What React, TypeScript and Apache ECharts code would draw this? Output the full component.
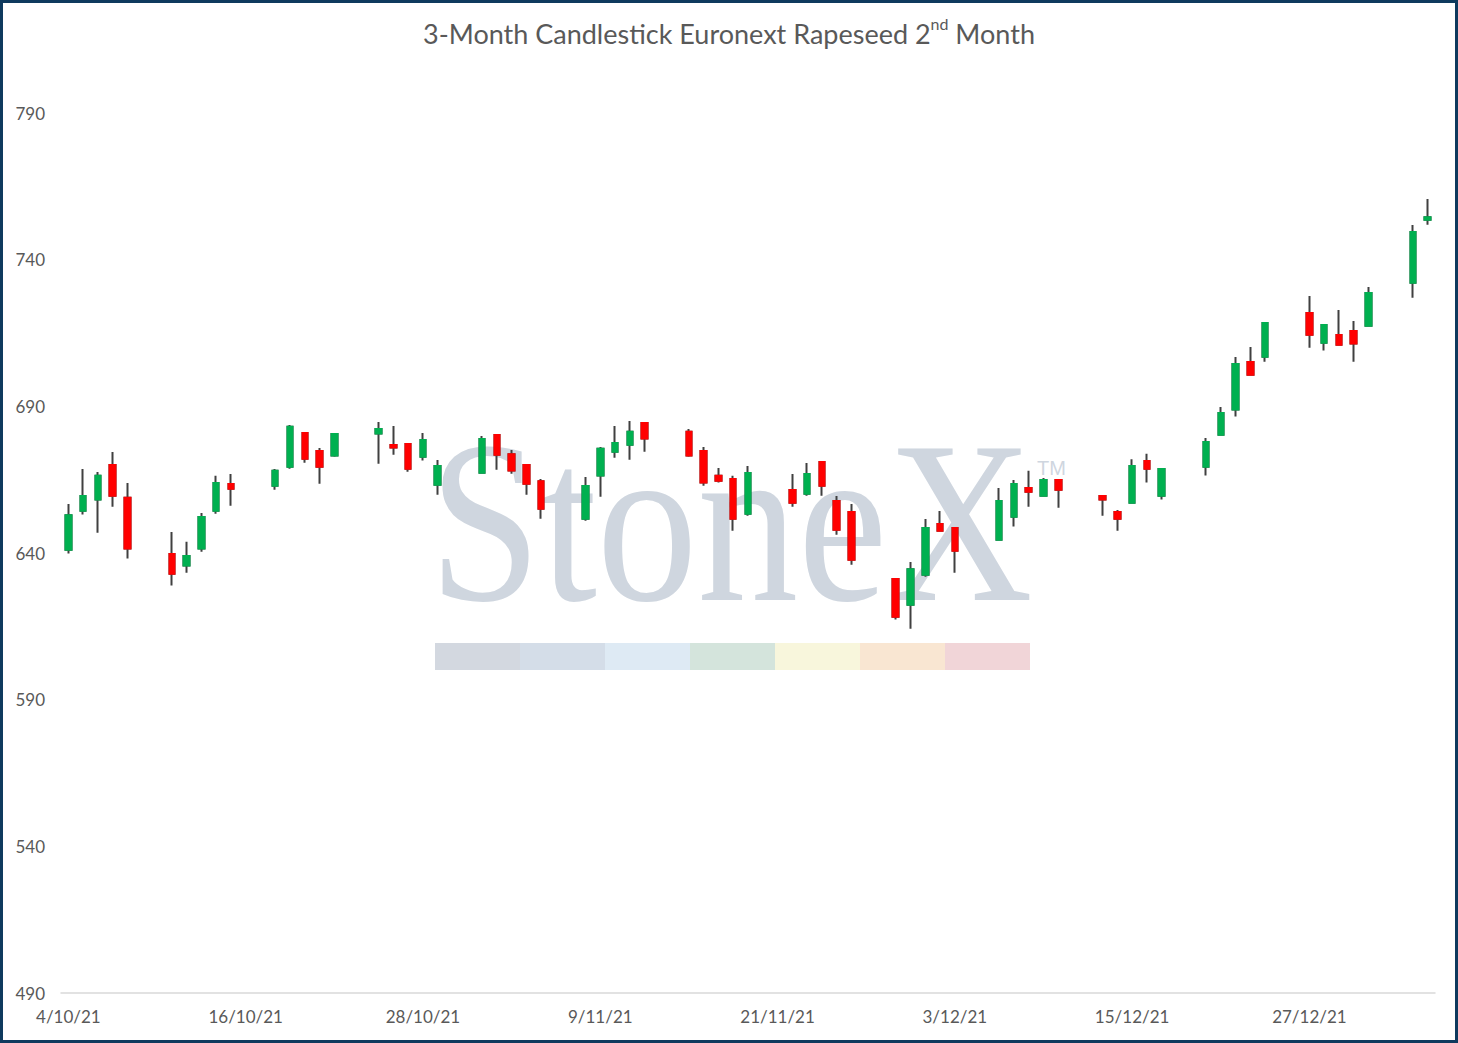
import React, { useEffect, useRef } from "react";
import * as echarts from "echarts";

// Trading days shown on the chart (d/m/yy)
const tradeDates = [
  "4/10/21", "5/10/21", "6/10/21", "7/10/21", "8/10/21",
  "11/10/21", "12/10/21", "13/10/21", "14/10/21", "15/10/21",
  "18/10/21", "19/10/21", "20/10/21", "21/10/21", "22/10/21",
  "25/10/21", "26/10/21", "27/10/21", "28/10/21", "29/10/21",
  "1/11/21", "2/11/21", "3/11/21", "4/11/21", "5/11/21",
  "8/11/21", "9/11/21", "10/11/21", "11/11/21", "12/11/21",
  "15/11/21", "16/11/21", "17/11/21", "18/11/21", "19/11/21",
  "22/11/21", "23/11/21", "24/11/21", "25/11/21", "26/11/21",
  "29/11/21", "30/11/21", "1/12/21", "2/12/21", "3/12/21",
  "6/12/21", "7/12/21", "8/12/21", "9/12/21", "10/12/21",
  "13/12/21", "14/12/21", "15/12/21", "16/12/21", "17/12/21",
  "20/12/21", "21/12/21", "22/12/21", "23/12/21", "24/12/21",
  "27/12/21", "28/12/21", "29/12/21", "30/12/21", "31/12/21",
  "3/1/22", "4/1/22",
];

const opens = [
  641.1, 654.4, 658.2, 670.0, 658.8,
  639.7, 635.7, 641.5, 654.4, 663.5,
  662.9, 669.4, 680.9, 674.8, 673.2,
  680.7, 676.8, 677.2, 672.8, 663.3,
  667.4, 680.2, 673.7, 670.0, 664.5,
  651.7, 666.4, 674.5, 676.9, 684.3,
  681.3, 674.8, 666.3, 665.2, 653.4,
  661.5, 660.2, 671.0, 657.7, 654.0,
  631.1, 622.4, 632.6, 649.9, 648.5,
  644.5, 652.4, 662.2, 659.5, 664.9,
  659.4, 654.0, 657.1, 671.4, 659.5,
  669.4, 680.3, 688.9, 705.1, 706.9,
  721.8, 711.7, 714.3, 715.7, 717.5,
  732.1, 753.6,
];

const closes = [
  652.9, 659.4, 666.3, 659.5, 641.5,
  632.9, 639.0, 652.3, 663.9, 661.9,
  668.0, 683.0, 672.1, 669.4, 680.6,
  682.3, 676.0, 668.7, 678.5, 669.7,
  678.9, 673.5, 668.1, 663.6, 655.1,
  662.8, 675.5, 677.5, 681.3, 679.0,
  673.2, 664.0, 664.6, 651.7, 667.3,
  657.1, 666.9, 662.9, 647.9, 637.7,
  618.3, 634.5, 648.5, 647.6, 640.8,
  657.7, 663.5, 660.9, 664.9, 661.6,
  658.2, 651.7, 669.7, 668.7, 668.6,
  677.8, 687.7, 704.4, 700.8, 718.4,
  714.4, 717.7, 711.0, 711.4, 728.6,
  749.4, 754.5,
];

const lows = [
  639.8, 653.1, 646.9, 655.8, 638.1,
  628.9, 633.3, 640.4, 653.4, 656.1,
  661.6, 668.7, 670.8, 663.6, 672.8,
  670.4, 673.5, 667.7, 671.5, 659.9,
  667.4, 668.4, 667.0, 659.9, 651.7,
  651.0, 659.2, 672.5, 671.8, 674.5,
  672.8, 662.9, 664.0, 647.6, 652.7,
  655.8, 659.5, 659.5, 646.2, 636.0,
  617.3, 614.2, 631.9, 647.3, 633.3,
  644.5, 649.0, 655.8, 659.5, 655.4,
  652.7, 647.6, 657.1, 664.0, 658.2,
  666.4, 680.0, 686.5, 700.8, 705.2,
  710.0, 709.0, 711.0, 705.2, 717.5,
  727.0, 751.9,
];

const highs = [
  656.7, 668.6, 667.6, 674.4, 663.9,
  647.2, 643.8, 653.6, 666.3, 666.9,
  668.6, 683.6, 680.9, 675.8, 680.9,
  684.7, 683.3, 677.2, 680.9, 671.7,
  679.9, 680.2, 675.1, 670.0, 665.2,
  665.9, 676.1, 683.3, 685.0, 684.7,
  682.3, 676.1, 669.0, 666.3, 669.7,
  666.9, 670.7, 671.0, 659.4, 656.7,
  631.1, 636.9, 651.6, 654.3, 648.5,
  662.2, 664.9, 668.0, 665.6, 664.9,
  659.8, 654.7, 672.0, 673.8, 668.6,
  679.2, 689.8, 706.8, 710.2, 718.4,
  727.6, 718.1, 722.8, 719.1, 730.7,
  751.8, 760.7,
];

const yTicks = { min: 490, max: 790, step: 50 };
const titleMain = "3-Month Candlestick Euronext Rapeseed 2";
const titleSup = "nd";
const titleEnd = " Month";
const watermarkColors = ["#d3d8e0", "#d4dde8", "#deeaf4", "#d4e4dc", "#f8f6dc", "#f9e6d2", "#f1d5d8"];

const UP = "#00b050";
const DOWN = "#ff0000";
const WICK = "#404040";
const TXT = "#595959";
const FONT = "Lato, 'Noto Sans', sans-serif";

function parseDMY(s: string) {
  const [d, m, y] = s.split("/").map(Number);
  return Date.UTC(2000 + y, m - 1, d);
}
function fmt(t: number) {
  const dt = new Date(t);
  return `${dt.getUTCDate()}/${dt.getUTCMonth() + 1}/${String(dt.getUTCFullYear()).slice(2)}`;
}

export default function App() {
  const ref = useRef<HTMLDivElement>(null);
  useEffect(() => {
    if (!ref.current) return;
    const chart = echarts.init(ref.current, undefined, { renderer: "svg" });

    // calendar day axis (weekends are empty slots)
    const start = parseDMY(tradeDates[0]);
    const end = parseDMY(tradeDates[tradeDates.length - 1]);
    const categories: string[] = [];
    for (let t = start; t <= end; t += 86400000) categories.push(fmt(t));

    const full = categories.map((c) => {
      const i = tradeDates.indexOf(c);
      return i < 0 ? "-" : [opens[i], closes[i], lows[i], highs[i]];
    });
    const bodies = categories.map((c) => {
      const i = tradeDates.indexOf(c);
      return i < 0
        ? "-"
        : [opens[i], closes[i], Math.min(opens[i], closes[i]), Math.max(opens[i], closes[i])];
    });

    const segW = 85;
    const barX = 435;
    const graphics: any[] = [
      {
        type: "text",
        x: 429,
        y: 522,
        scaleX: 0.875,
        z: -10,
        silent: true,
        style: {
          text: "StoneX",
          fontFamily: "'Liberation Serif', 'DejaVu Serif', serif",
          fontSize: 230,
          fill: "#cfd6df",
          align: "left",
          verticalAlign: "middle",
        },
      },
      {
        type: "text",
        x: 1037,
        y: 468,
        z: -10,
        silent: true,
        style: {
          text: "TM",
          fontFamily: "'Liberation Sans', sans-serif",
          fontSize: 20,
          fill: "#cfd6df",
          align: "left",
          verticalAlign: "middle",
        },
      },
      ...watermarkColors.map((col, i) => ({
        type: "rect",
        z: -10,
        silent: true,
        shape: { x: barX + i * segW, y: 643, width: segW, height: 27 },
        style: { fill: col },
      })),
      {
        type: "rect",
        z: 100,
        silent: true,
        shape: { x: 1.5, y: 1.5, width: 1455, height: 1040 },
        style: { fill: "none", stroke: "#0e3a5e", lineWidth: 3 },
      },
    ];

    chart.setOption({
      animation: false,
      backgroundColor: "#ffffff",
      title: {
        left: "center",
        top: 10,
        text: `{a|${titleMain}}{s|${titleSup}}{a|${titleEnd}}`,
        textStyle: {
          fontWeight: "normal",
          rich: {
            a: { fontSize: 27, fontWeight: "normal", color: TXT, fontFamily: FONT, lineHeight: 32, verticalAlign: "bottom" },
            s: { fontSize: 16, fontWeight: "normal", color: TXT, fontFamily: FONT, lineHeight: 32, verticalAlign: "top" },
          },
        },
      },
      grid: { left: 61, right: 23, top: 113, bottom: 50, containLabel: false },
      xAxis: {
        type: "category",
        data: categories,
        boundaryGap: true,
        axisLine: { show: true, lineStyle: { color: "#d9d9d9", width: 1.5 } },
        axisTick: { show: false },
        splitLine: { show: false },
        axisLabel: {
          interval: 11,
          color: TXT,
          fontSize: 17,
          fontFamily: FONT,
          margin: 15,
        },
      },
      yAxis: {
        type: "value",
        min: yTicks.min,
        max: yTicks.max,
        interval: yTicks.step,
        axisLine: { show: false },
        axisTick: { show: false },
        splitLine: { show: false },
        axisLabel: { color: TXT, fontSize: 17, fontFamily: FONT, margin: 16 },
      },
      graphic: graphics,
      series: [
        {
          type: "candlestick",
          data: full,
          barWidth: 6,
          itemStyle: {
            color: UP,
            color0: DOWN,
            borderColor: WICK,
            borderColor0: WICK,
            borderWidth: 2,
          },
          z: 2,
        },
        {
          type: "candlestick",
          data: bodies,
          barWidth: 6,
          itemStyle: {
            color: UP,
            color0: DOWN,
            borderColor: UP,
            borderColor0: DOWN,
            borderWidth: 2,
          },
          z: 3,
        },
      ],
    });
    return () => chart.dispose();
  }, []);
  return (
    <div
      ref={ref}
      style={{ position: "absolute", left: 0, top: 0, width: 1458, height: 1043 }}
    />
  );
}
